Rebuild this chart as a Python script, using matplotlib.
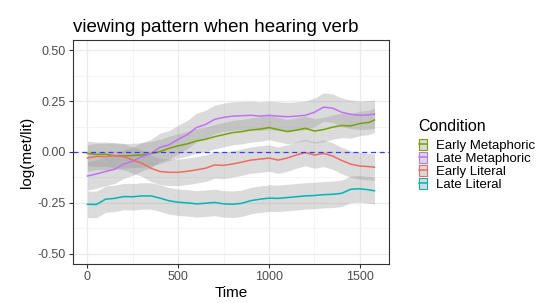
import numpy as np
import matplotlib
matplotlib.use("Agg")
import matplotlib.pyplot as plt
from matplotlib.lines import Line2D
from matplotlib.patches import Patch

plt.rcParams['font.family'] = ['Liberation Sans', 'DejaVu Sans']

time = [0, 50, 100, 150, 200, 250, 300, 350, 400, 450, 500, 550, 600, 650, 700, 750,
        800, 850, 900, 950, 1000, 1050, 1100, 1150, 1200, 1250, 1300, 1350, 1400,
        1450, 1500, 1550, 1580]

early_met = [-0.007, -0.012, -0.011, -0.018, -0.020, -0.017, -0.015, -0.008, 0.002, 0.018,
             0.030, 0.040, 0.054, 0.062, 0.075, 0.085, 0.095, 0.100, 0.108, 0.112, 0.120,
             0.110, 0.100, 0.107, 0.116, 0.103, 0.110, 0.122, 0.130, 0.128, 0.140, 0.145, 0.157]
late_met = [-0.118, -0.108, -0.096, -0.085, -0.060, -0.045, -0.023, -0.008, 0.023, 0.035,
            0.062, 0.085, 0.120, 0.135, 0.160, 0.170, 0.176, 0.178, 0.180, 0.176, 0.180,
            0.176, 0.173, 0.176, 0.180, 0.195, 0.220, 0.215, 0.195, 0.185, 0.180, 0.182, 0.186]
early_lit = [-0.030, -0.022, -0.023, -0.018, -0.023, -0.040, -0.055, -0.080, -0.096, -0.100,
             -0.100, -0.095, -0.088, -0.080, -0.064, -0.066, -0.059, -0.050, -0.040, -0.035,
             -0.030, -0.040, -0.030, -0.015, -0.003, -0.015, -0.007, -0.020, -0.042, -0.060,
             -0.069, -0.072, -0.075]
late_lit = [-0.257, -0.258, -0.232, -0.228, -0.219, -0.220, -0.216, -0.216, -0.227, -0.240,
            -0.247, -0.250, -0.255, -0.252, -0.248, -0.255, -0.257, -0.252, -0.239, -0.232,
            -0.227, -0.228, -0.224, -0.220, -0.216, -0.214, -0.210, -0.208, -0.203, -0.183,
            -0.181, -0.186, -0.191]

conditions = ['Early Metaphoric', 'Late Metaphoric', 'Early Literal', 'Late Literal']
colors = ['#76A300', '#BE72F5', '#EE6C63', '#00B5BA']
ribbon_se = [0.060, 0.070, 0.065, 0.065]
series = [early_met, late_met, early_lit, late_lit]

fig = plt.figure(figsize=(5.37, 3.03), dpi=100)
ax = fig.add_axes([0.136, 0.129, 0.588, 0.739])

t = np.array(time)
for y, c, se in zip(series, colors, ribbon_se):
    y = np.array(y)
    ax.fill_between(t, y - se, y + se, color='#999999', alpha=0.35, lw=0)
for y, c in zip(series, colors):
    ax.plot(t, y, color=c, lw=1.1)

ax.axhline(0, color='#3C3CF0', ls=(0, (4, 3)), lw=0.9)

ax.set_xlim(-79, 1659)
ax.set_ylim(-0.55, 0.55)
ax.set_xticks([0, 500, 1000, 1500])
ax.set_xticks([250, 750, 1250], minor=True)
ax.set_yticks([-0.5, -0.25, 0, 0.25, 0.5])
ax.set_yticklabels(['-0.50', '-0.25', '0.00', '0.25', '0.50'])
ax.set_yticks([-0.375, -0.125, 0.125, 0.375], minor=True)
ax.grid(which='major', color='#EBEBEB', lw=0.9)
ax.grid(which='minor', color='#F2F2F2', lw=0.6)
ax.set_axisbelow(True)
ax.tick_params(which='major', length=3, color='#333333', labelcolor='#4D4D4D', labelsize=9, pad=2)
ax.tick_params(which='minor', length=0)
for s in ax.spines.values():
    s.set_color('#333333')
    s.set_linewidth(0.8)

ax.set_xlabel('Time', fontsize=11, labelpad=2)
ax.set_ylabel('log(met/lit)', fontsize=11, labelpad=3)
ax.set_title('viewing pattern when hearing verb', fontsize=13.5, loc='left', pad=6)

handles = [(Patch(facecolor='#D9D9D9', edgecolor=c, lw=0.8), Line2D([], [], color=c, lw=1.1))
           for c in colors]
leg = fig.legend(handles, conditions, title='Condition', loc='upper left',
                 bbox_to_anchor=(412 / 537, 1 - 112 / 303), frameon=False,
                 fontsize=9.5, title_fontsize=11.5, handlelength=0.6, handleheight=0.9,
                 handletextpad=0.7, labelspacing=0.0, borderpad=0, alignment='left')
leg._legend_box.sep = 4

fig.savefig('out.png', dpi=100)
